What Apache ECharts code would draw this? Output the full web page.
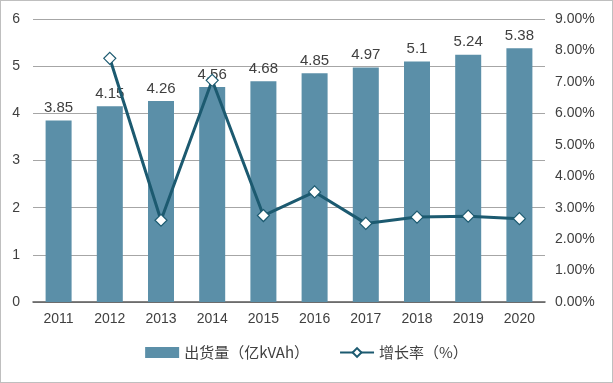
<!DOCTYPE html>
<html><head><meta charset="utf-8">
<script src="https://cdn.jsdelivr.net/npm/echarts@6/dist/echarts.min.js"></script>
<style>html,body{margin:0;padding:0;background:#fff}#c{width:611px;height:381px;border:1px solid #bfbfbf}</style>
</head><body><div id="c"></div>
<script>
const years = ['2011','2012','2013','2014','2015','2016','2017','2018','2019','2020'];
const shipments = [3.85,4.15,4.26,4.56,4.68,4.85,4.97,5.1,5.24,5.38];
const growth = [null,7.75,2.6,7.05,2.75,3.5,2.5,2.7,2.73,2.65];
const barName = '出货量（亿kVAh）';
const lineName = '增长率（%）';
const chart = echarts.init(document.getElementById('c'));
const txt = {color:'#404040', fontSize:14, fontFamily:'Liberation Sans, Arial, sans-serif'};
chart.setOption({
  animation:false,
  grid:{left:32,right:67,top:18,bottom:80},
  legend:{bottom:17,left:'center',itemGap:30,itemWidth:34,itemHeight:11,
    textStyle:{color:'#404040',fontSize:15,fontFamily:'Noto Sans CJK SC, sans-serif'},
    data:[{name:barName,icon:'rect'},{name:lineName}]},
  xAxis:{type:'category',data:years,
    axisLine:{lineStyle:{color:'#595959',width:1.5}},axisTick:{show:false},
    axisLabel:Object.assign({margin:10},txt)},
  yAxis:[
    {type:'value',min:0,max:6,interval:1,
      axisLine:{show:false},axisTick:{show:false},
      axisLabel:Object.assign({margin:13},txt),
      splitLine:{lineStyle:{color:'#a6a6a6',width:1.2}}},
    {type:'value',min:0,max:9,interval:1,position:'right',
      axisLine:{show:false},axisTick:{show:false},splitLine:{show:false},
      axisLabel:Object.assign({margin:10,formatter:v=>v.toFixed(2)+'%'},txt)}
  ],
  series:[
    {name:barName,type:'bar',data:shipments,barWidth:26,
      itemStyle:{color:'#5b8fa8'},
      label:{show:true,position:'top',distance:5,color:'#404040',fontSize:15,fontFamily:'Liberation Sans, Arial, sans-serif'}},
    {name:lineName,type:'line',yAxisIndex:1,data:growth,
      symbol:'diamond',symbolSize:12,
      lineStyle:{color:'#1c5a70',width:3},
      itemStyle:{color:'#fff',borderColor:'#1c5a70',borderWidth:1.2}}
  ]
});
</script></body></html>
